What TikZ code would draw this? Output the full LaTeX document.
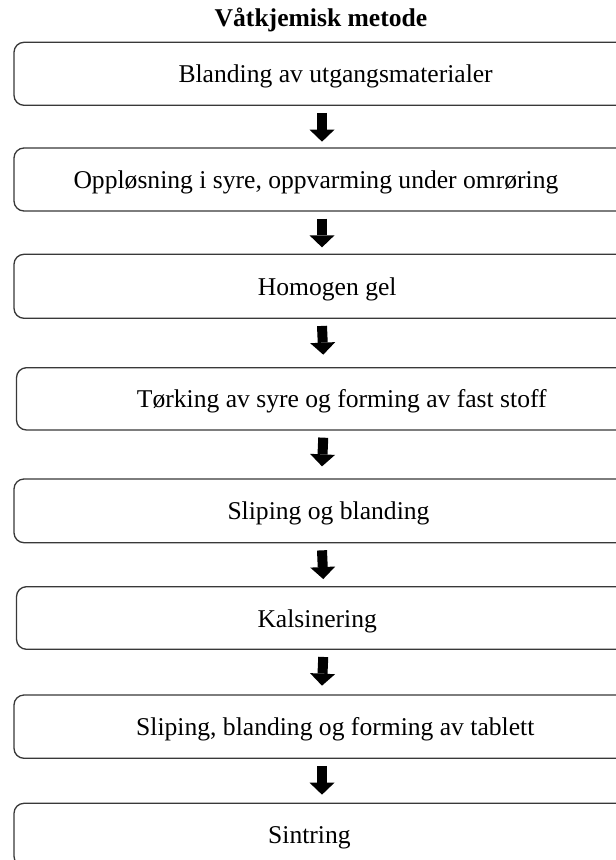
\documentclass[tikz,border=0pt]{standalone}
\usepackage{fontspec}
\setmainfont{Liberation Serif}
\usetikzlibrary{arrows.meta}
\begin{document}
\begin{tikzpicture}[x=1pt,y=-1pt,
  box/.style={draw=black!78, line width=1.3pt, rounded corners=10pt, inner sep=0pt, minimum width=616pt},
  lbl/.style={anchor=base west, inner sep=0pt, font=\fontsize{25.6}{30}\selectfont},
  fat/.style={line width=10pt, -{Triangle[width=25pt,length=12pt,line width=0pt]}, black}
]
\useasboundingbox (0,0) rectangle (616,860);
\clip (0,0) rectangle (616,860);
\fill[white] (0,0) rectangle (616,860);
\node[anchor=base, inner sep=0pt, font=\bfseries\fontsize{25.6}{30}\selectfont] (title) at (321,26) {Våtkjemisk metode};
\node[box, minimum height=63pt] (b1) at (322,73.8) {};
\node[box, minimum height=63pt] (b2) at (322,179.5) {};
\node[box, minimum height=64pt] (b3) at (322,286.3) {};
\node[box, minimum height=62.3pt, minimum width=613.5pt] (b4) at (323.25,398.85) {};
\node[box, minimum height=63.7pt] (b5) at (322,510.85) {};
\node[box, minimum height=62.6pt, minimum width=613.5pt] (b6) at (323.25,618) {};
\node[box, minimum height=63.3pt] (b7) at (322,726.65) {};
\node[box, minimum height=63pt] (b8) at (322,834.8) {};
\node[lbl] (t1) at (178.3,82.8) {Blanding av utgangsmaterialer};
\node[lbl] (t2) at (73.3,188.5) {Oppløsning i syre, oppvarming under omrøring};
\node[lbl] (t3) at (257.7,295.3) {Homogen gel};
\node[lbl] (t4) at (136.7,407.9) {Tørking av syre og forming av fast stoff};
\node[lbl] (t5) at (227.3,519.9) {Sliping og blanding};
\node[lbl] (t6) at (257.3,627) {Kalsinering};
\node[lbl] (t7) at (136,735.7) {Sliping, blanding og forming av tablett};
\node[lbl] (t8) at (268,843.8) {Sintring};
\draw[fat] ([yshift=-7pt]b1.south) -- ([yshift=5.7pt]b2.north);
\draw[fat] ([yshift=-7pt]b2.south) -- ([yshift=6.3pt]b3.north);
\draw[fat] ([yshift=-7pt]b3.south) -- ([yshift=12.4pt]b4.north);
\draw[fat] ([yshift=-7pt]b4.south) -- ([yshift=12pt]b5.north);
\draw[fat] ([yshift=-7pt]b5.south) -- ([yshift=7pt]b6.north);
\draw[fat] ([yshift=-7pt]b6.south) -- ([yshift=8.7pt]b7.north);
\draw[fat] ([yshift=-7pt]b7.south) -- ([yshift=8pt]b8.north);
\end{tikzpicture}
\end{document}
